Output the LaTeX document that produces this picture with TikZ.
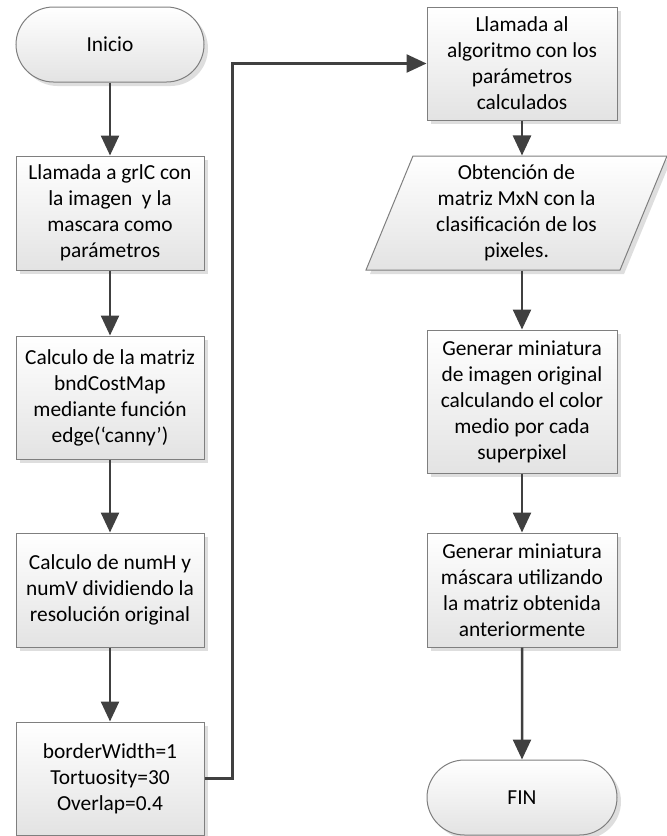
\documentclass[tikz,border=0pt]{standalone}
\usepackage{fontspec}
\setmainfont{Carlito}
\usetikzlibrary{arrows.meta,shapes.geometric,shapes.misc,shadows}
\definecolor{linegray}{HTML}{404040}
\definecolor{edgegray}{HTML}{7F7F7F}
\begin{document}
\begin{tikzpicture}[x=1pt,y=-1pt,
  font=\fontsize{21.4}{26}\selectfont,
  box/.style={draw=edgegray,line width=1pt,top color=white,bottom color=black!11,
    drop shadow={shadow xshift=4pt,shadow yshift=-4pt,fill=black!13,opacity=1},
    align=center,inner sep=0pt},
  proc/.style={box,rectangle,minimum width=188pt,minimum height=114pt},
  term/.style={box,rounded rectangle,minimum width=188pt,minimum height=75pt},
  datos/.style={box,trapezium,trapezium left angle=64,trapezium right angle=116,
    trapezium stretches body,minimum width=301pt,minimum height=114pt},
  flecha/.style={draw=linegray,line width=2.5pt,-{Triangle[length=20pt,width=18pt]}}]
  \useasboundingbox (0,0) rectangle (667,836);
  \node[term] (ini) at (110,44.5) {Inicio};
  \node[proc] (llam) at (110,213) {Llamada a grlC con\\la imagen~ y la\\mascara como\\parámetros};
  \node[proc,minimum height=123pt] (bnd) at (110,397.5) {Calculo de la matriz\\bndCostMap\\mediante función\\edge(‘canny’)};
  \node[proc] (num) at (110,590) {Calculo de numH y\\numV dividiendo la\\resolución original};
  \node[proc,minimum height=113pt] (par) at (110,778.5) {borderWidth=1\\Tortuosity=30\\Overlap=0.4};
  \node[proc,minimum width=190pt,minimum height=113pt] (alg) at (522,63.5) {Llamada al\\algoritmo con los\\parámetros\\calculados};
  \node[datos] (mat) at (516.5,213) {Obtención de\\matriz MxN con la\\clasificación de los\\pixeles.};
  \node[proc,minimum width=190pt,minimum height=143pt] (mini) at (522,401.5) {Generar miniatura\\de imagen original\\calculando el color\\medio por cada\\superpixel};
  \node[proc,minimum width=190pt] (masc) at (522,590) {Generar miniatura\\máscara utilizando\\la matriz obtenida\\anteriormente};
  \node[term,minimum width=190pt] (fin) at (522,797.5) {FIN};
  \draw[flecha] (ini) -- (llam);
  \draw[flecha] (llam) -- (bnd);
  \draw[flecha] (bnd) -- (num);
  \draw[flecha] (num) -- (par);
  \draw[flecha] (par.east) -- ++(28,0) |- (alg.west);
  \draw[flecha] (alg.south) -- (alg.south |- mat.north);
  \draw[flecha] (alg.south |- mat.south) -- (mini.north);
  \draw[flecha] (mini) -- (masc);
  \draw[flecha] (masc) -- (fin);
\end{tikzpicture}
\end{document}
